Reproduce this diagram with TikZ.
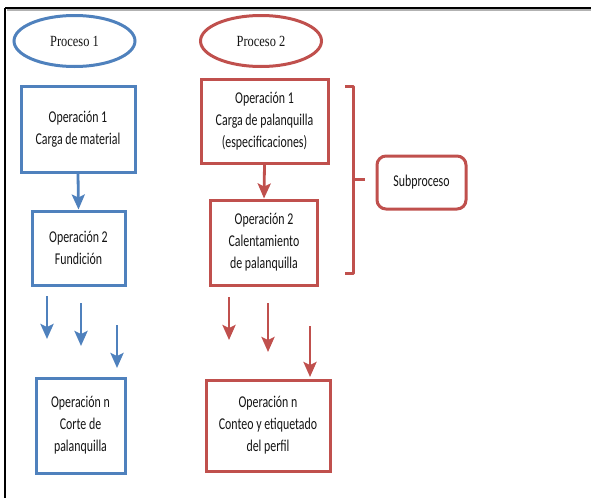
\documentclass[tikz,border=0pt]{standalone}
\usepackage{fontspec}
\setmainfont{Carlito}
\newfontfamily\boxfont{Carlito}[FakeStretch=0.72]
\newfontfamily\procfont{Liberation Serif}[FakeStretch=0.8]
\usetikzlibrary{arrows.meta,shapes.geometric}
\definecolor{oblue}{HTML}{4F81BD}
\definecolor{ored}{HTML}{C0504D}
\definecolor{txt}{HTML}{141414}
\tikzset{
  opbox/.style={draw, line width=3pt, rectangle, align=center, text=txt,
    font=\boxfont\fontsize{16.5}{22}\selectfont, inner sep=0pt},
  procell/.style={draw, line width=3pt, ellipse, minimum width=121pt, minimum height=51pt,
    text=txt, font=\procfont\fontsize{15.5}{18}\selectfont, inner sep=0pt},
  flow/.style={line width=2.8pt, -{Stealth[length=15pt,width=13pt,inset=3pt]}},
}
\begin{document}
\begin{tikzpicture}[x=1pt,y=-1pt]
\useasboundingbox (0,0) rectangle (591,498);
\fill[white] (0,0) rectangle (591,498);
% frame
\draw[gray!60, line width=1.5pt] (7,10) -- (591,10);
\draw[black, line width=2pt] (5,8) -- (591,8);
\draw[black, line width=2pt] (5,8) -- (5,498);

% Proceso 1 column
\node[procell, draw=oblue] (p1) at (74.5,41) {\raisebox{-3pt}{Proceso 1}};
\node[opbox, draw=oblue, minimum width=114pt, minimum height=86pt] (b1) at (78,129)
  {Operación 1\\Carga de material};
\node[opbox, draw=oblue, minimum width=93pt, minimum height=74pt] (b2) at (78.5,248)
  {Operación 2\\Fundición};
\node[opbox, draw=oblue, minimum width=89pt, minimum height=95pt] (bn) at (80.5,425.5)
  {Operación n\\Corte de\\palanquilla};
\draw[flow, oblue] (b1.south) -- (b2.north);
\coordinate (ba1s) at (47,296); \coordinate (ba1e) at (47,339);
\coordinate (ba2s) at (81,303); \coordinate (ba2e) at (81,346);
\coordinate (ba3s) at (117,325); \coordinate (ba3e) at (117,368);
\draw[flow, oblue] (ba1s) -- (ba1e);
\draw[flow, oblue] (ba2s) -- (ba2e);
\draw[flow, oblue] (ba3s) -- (ba3e);

% Proceso 2 column
\node[procell, draw=ored] (p2) at (261,41) {\raisebox{-3pt}{Proceso 2}};
\node[opbox, draw=ored, minimum width=127pt, minimum height=84pt] (r1) at (264.5,121)
  {Operación 1\\Carga de palanquilla\\(especificaciones)};
\node[opbox, draw=ored, minimum width=107pt, minimum height=85pt] (r2) at (264,242.5)
  {Operación 2\\Calentamiento\\de palanquilla};
\node[opbox, draw=ored, minimum width=124pt, minimum height=91pt] (rn) at (268,425.5)
  {Operación n\\Conteo y etiquetado\\del perfil};
\draw[flow, ored] (r1.south) -- (r2.north);
\coordinate (ra1s) at (229,297); \coordinate (ra1e) at (229,340);
\coordinate (ra2s) at (268,303); \coordinate (ra2e) at (268,352);
\coordinate (ra3s) at (310,326); \coordinate (ra3e) at (310,377);
\draw[flow, ored] (ra1s) -- (ra1e);
\draw[flow, ored] (ra2s) -- (ra2e);
\draw[flow, ored] (ra3s) -- (ra3e);

% brace and subproceso
\draw[ored, line width=3pt, line join=round] (345,86) -- (353,86) -- (353,273) -- (345,273);
\draw[ored, line width=3pt] (353,179) -- (365,179);
\node[opbox, draw=ored, rounded corners=9pt, minimum width=89pt, minimum height=53pt] (sp) at (421.5,182.5)
  {Subproceso};
\end{tikzpicture}
\end{document}
